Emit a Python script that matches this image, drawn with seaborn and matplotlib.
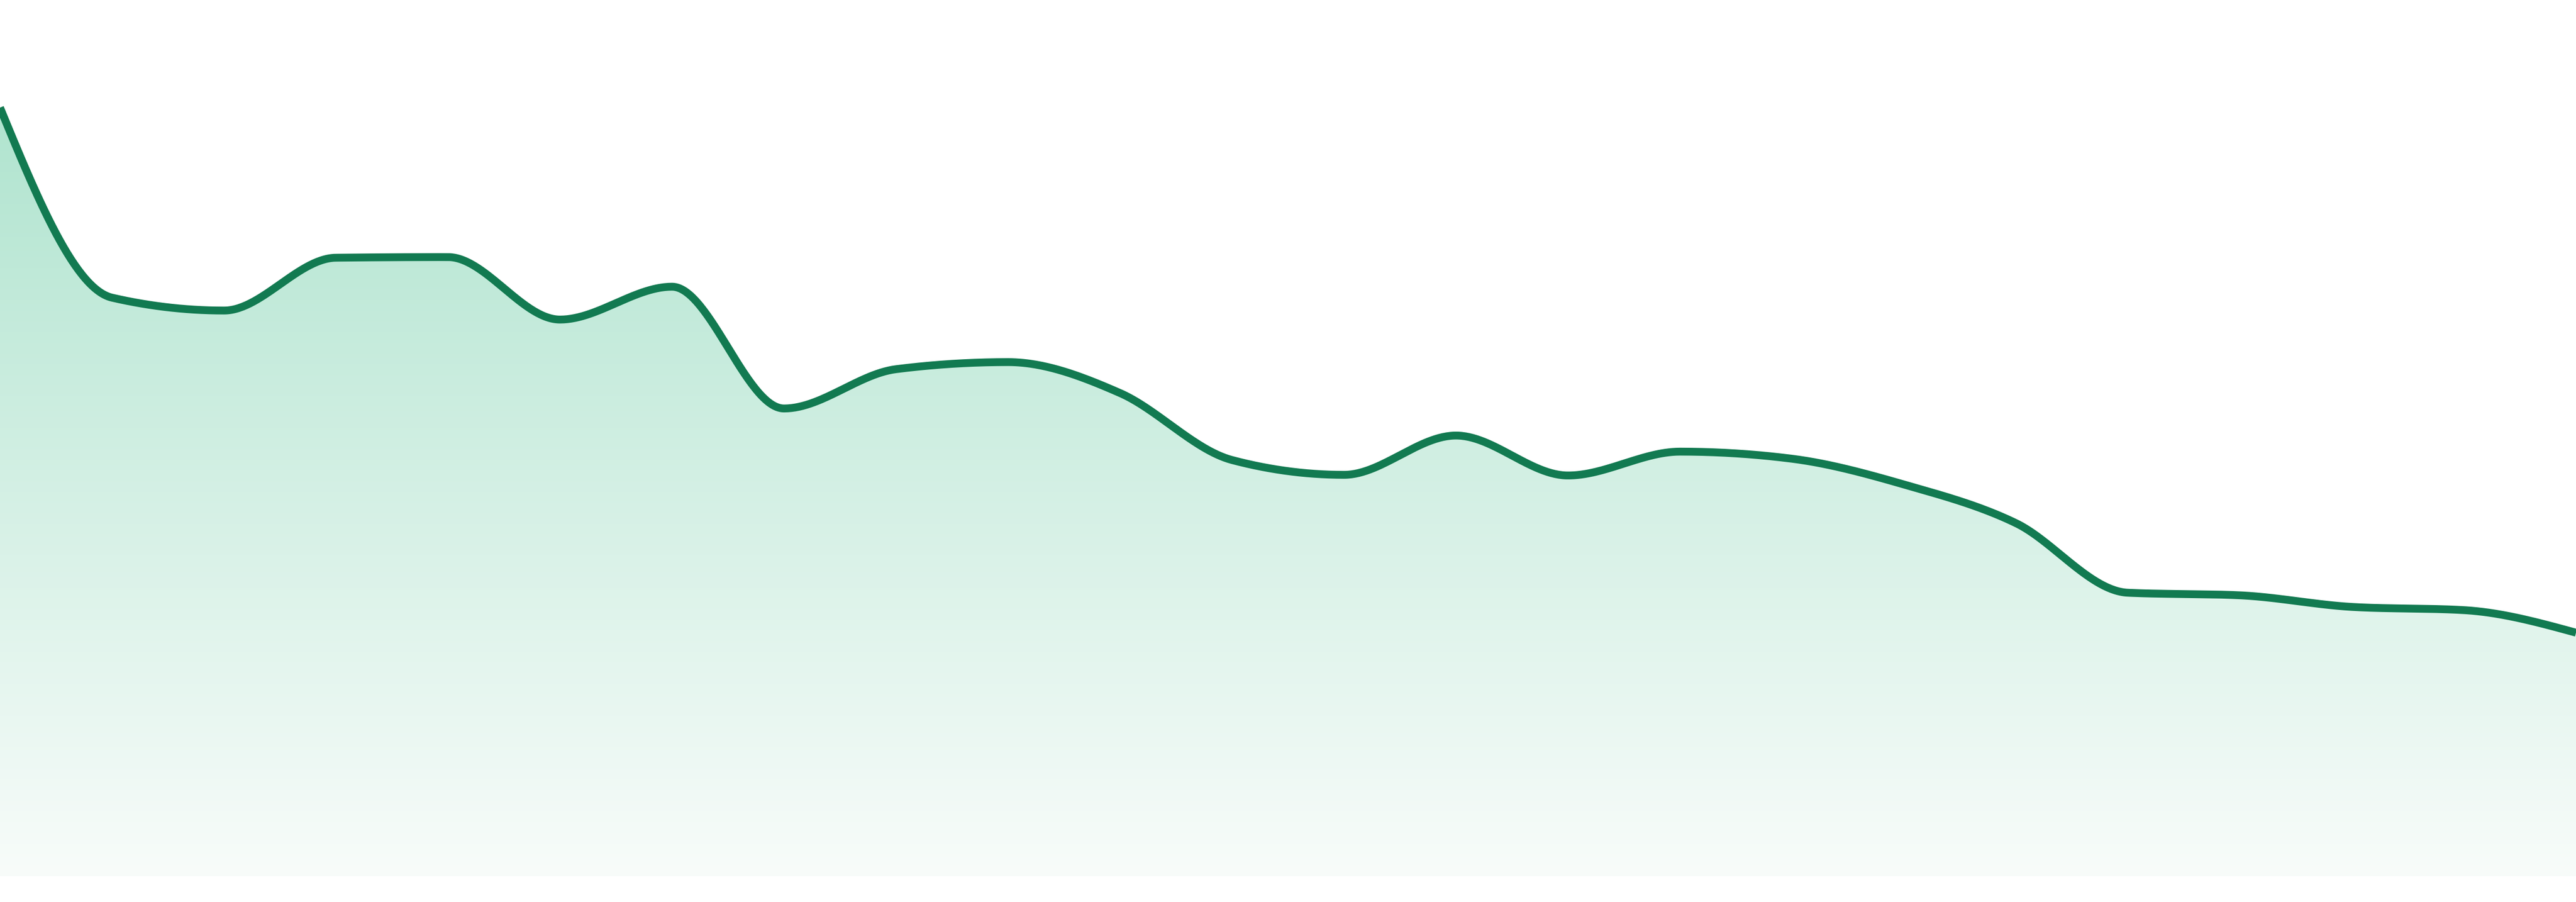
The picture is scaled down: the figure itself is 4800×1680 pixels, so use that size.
import numpy as np
import pandas as pd
import matplotlib
matplotlib.use("Agg")
import matplotlib.pyplot as plt
import seaborn as sns

# ---- data ----
periods = list(range(24))
values = [119.3, 89.8, 87.8, 96.0, 96.1, 86.4, 91.5, 72.6, 78.7, 79.8, 75.0, 64.6,
          62.3, 68.4, 62.2, 65.9, 64.8, 60.8, 54.8, 44.0, 43.6, 41.8, 41.3, 37.8]

line_color = "#127a51"
grad_top = (176, 228, 207)
grad_bottom = (248, 252, 250)


def monotone_x(x, y, n_per=60):
    """d3.curveMonotoneX style interpolation (cubic Hermite, Steffen slopes)."""
    x = np.asarray(x, float)
    y = np.asarray(y, float)
    n = len(x)
    h = np.diff(x)
    s = np.diff(y) / h
    t = np.zeros(n)
    for i in range(1, n - 1):
        s0, s1 = s[i - 1], s[i]
        p = (s0 * h[i] + s1 * h[i - 1]) / (h[i - 1] + h[i])
        t[i] = (np.sign(s0) + np.sign(s1)) * min(abs(s0), abs(s1), 0.5 * abs(p))
    t[0] = (3 * s[0] - t[1]) / 2
    t[-1] = (3 * s[-1] - t[-2]) / 2
    xs, ys = [], []
    for i in range(n - 1):
        u = np.linspace(0, 1, n_per, endpoint=(i == n - 2))
        h00 = 2 * u**3 - 3 * u**2 + 1
        h10 = u**3 - 2 * u**2 + u
        h01 = -2 * u**3 + 3 * u**2
        h11 = u**3 - u**2
        xs.append(x[i] + u * h[i])
        ys.append(h00 * y[i] + h10 * h[i] * t[i] + h01 * y[i + 1] + h11 * h[i] * t[i + 1])
    return np.concatenate(xs), np.concatenate(ys)


sns.set_theme(style="white")

fig = plt.figure(figsize=(16, 5.6), dpi=300)
ax = fig.add_axes([0, 0, 1, 1])

xs, ys = monotone_x(periods, values)
curve = pd.DataFrame({"period": xs, "value": ys})

y_bottom = 0.0
y_top_lim = 136.0
y_min_lim = -4.0

# gradient fill clipped to the area under the curve
fill = ax.fill_between(curve["period"], curve["value"], y_bottom,
                       facecolor="none", edgecolor="none")
g = np.linspace(0, 1, 512)[:, None]
top = np.array(grad_top) / 255.0
bot = np.array(grad_bottom) / 255.0
img = top[None, None, :] * (1 - g[..., None]) + bot[None, None, :] * g[..., None]
img = np.repeat(img, 2, axis=1)
im = ax.imshow(img, extent=[periods[0], periods[-1], y_bottom, max(values)],
               aspect="auto", origin="upper", interpolation="bilinear", zorder=1)
im.set_clip_path(fill.get_paths()[0], transform=ax.transData)

sns.lineplot(data=curve, x="period", y="value", ax=ax, color=line_color,
             linewidth=3.5, sort=False, estimator=None, zorder=3)
for ln in ax.lines:
    ln.set_solid_capstyle("butt")
    ln.set_solid_joinstyle("round")

ax.set_xlim(periods[0], periods[-1])
ax.set_ylim(y_min_lim, y_top_lim)
ax.set_axis_off()
fig.patch.set_facecolor("white")

fig.savefig("out.png", dpi=300, facecolor="white")
